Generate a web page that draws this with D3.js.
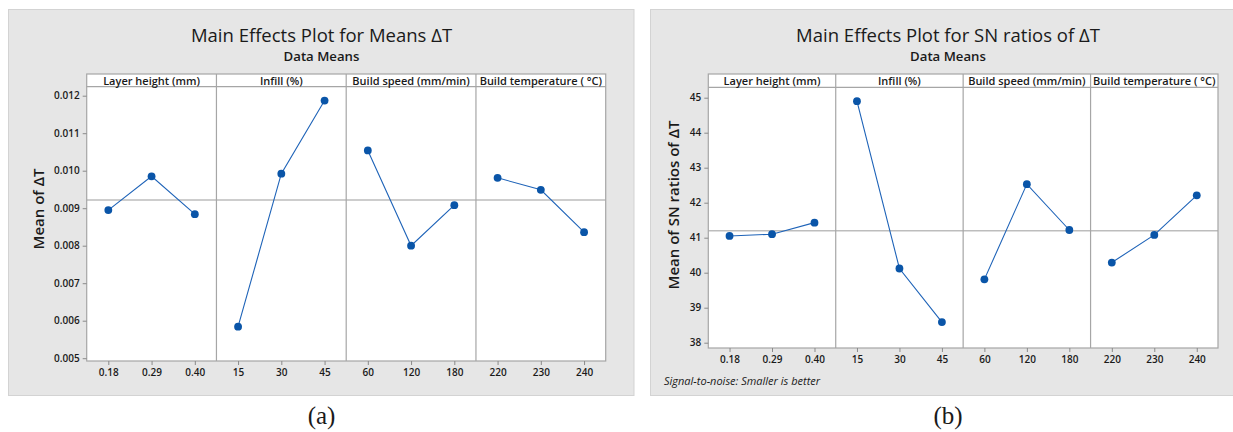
<!DOCTYPE html>
<html>
<head>
<meta charset="utf-8">
<script src="https://cdn.jsdelivr.net/npm/d3@7"></script>
<style>
  html, body { margin: 0; padding: 0; background: #ffffff; }
  svg { display: block; }
  text { font-family: "Open Sans", "Noto Sans", sans-serif; fill: #1a1a1a; }
</style>
</head>
<body>
<svg id="chart" width="1233" height="432"></svg>
<script>
// ---------- DATA ----------
const factors = ["Layer height (mm)", "Infill (%)", "Build speed (mm/min)", "Build temperature ( °C)"];
const layerLevels = ["0.18", "0.29", "0.40"];
const infillLevels = ["15", "30", "45"];
const speedLevels = ["60", "120", "180"];
const tempLevels = ["220", "230", "240"];

// (a) Means of ΔT
const meansLayer = [0.00895, 0.00985, 0.00884];
const meansInfill = [0.00584, 0.00992, 0.01187];
const meansSpeed = [0.01054, 0.00800, 0.00908];
const meansTemp = [0.00981, 0.00949, 0.00836];
const meansOverall = 0.00922;
const meansTicks = [0.005, 0.006, 0.007, 0.008, 0.009, 0.010, 0.011, 0.012];

// (b) SN ratios of ΔT
const snLayer = [41.05, 41.10, 41.43];
const snInfill = [44.90, 40.12, 38.59];
const snSpeed = [39.81, 42.53, 41.22];
const snTemp = [40.29, 41.08, 42.21];
const snOverall = 41.20;
const snTicks = [38, 39, 40, 41, 42, 43, 44, 45];

// ---------- DRAW ----------
const svg = d3.select("#chart");
const levelSets = [layerLevels, infillLevels, speedLevels, tempLevels];

function drawPanel(cfg) {
  const g = svg.append("g");
  // gray background
  g.append("rect")
    .attr("x", cfg.bg[0]).attr("y", cfg.bg[1])
    .attr("width", cfg.bg[2]).attr("height", cfg.bg[3])
    .attr("fill", "#e6e6e6").attr("stroke", "#d3d3d3").attr("stroke-width", 1);

  g.append("text").attr("x", cfg.titleX).attr("y", 41.5)
    .attr("text-anchor", "middle").attr("font-size", 18.5).attr("font-weight", 500)
    .text(cfg.title);
  g.append("text").attr("x", cfg.titleX).attr("y", 61)
    .attr("text-anchor", "middle").attr("font-size", 13.2).attr("font-weight", 600)
    .text("Data Means");

  const y = d3.scaleLinear().domain([cfg.ticks[0], cfg.ticks[cfg.ticks.length - 1]])
    .range([cfg.yTickBottom, cfg.yTickTop]);

  const fw = (cfg.x1 - cfg.x0) / factors.length;

  // plot white background + header
  g.append("rect").attr("x", cfg.x0).attr("y", cfg.headerTop)
    .attr("width", cfg.x1 - cfg.x0).attr("height", cfg.bottom - cfg.headerTop)
    .attr("fill", "#ffffff");

  // mean reference line
  g.append("line")
    .attr("x1", cfg.x0).attr("x2", cfg.x1)
    .attr("y1", y(cfg.overall)).attr("y2", y(cfg.overall))
    .attr("stroke", "#bdbdbd").attr("stroke-width", 1.6);

  // borders
  const bc = "#a6a6a6";
  g.append("rect").attr("x", cfg.x0).attr("y", cfg.headerTop)
    .attr("width", cfg.x1 - cfg.x0).attr("height", cfg.bottom - cfg.headerTop)
    .attr("fill", "none").attr("stroke", bc).attr("stroke-width", 1.2);
  g.append("line").attr("x1", cfg.x0).attr("x2", cfg.x1)
    .attr("y1", cfg.top).attr("y2", cfg.top)
    .attr("stroke", bc).attr("stroke-width", 1.2);

  // y axis
  const yAxis = d3.axisLeft(y).tickValues(cfg.ticks).tickSize(4).tickPadding(3)
    .tickFormat(cfg.tickFormat);
  const ya = g.append("g").attr("transform", `translate(${cfg.x0},0)`).call(yAxis);
  ya.select(".domain").remove();
  ya.selectAll(".tick line").attr("stroke", "#8a8a8a");
  ya.selectAll(".tick text").attr("font-size", 10).attr("font-weight", 600)
    .attr("font-family", "'Open Sans', sans-serif").attr("fill", "#1a1a1a");

  // y title
  g.append("text")
    .attr("transform", `translate(${cfg.yTitleX},${cfg.yTitleY}) rotate(-90)`)
    .attr("text-anchor", "middle").attr("font-size", 15).attr("font-weight", 600)
    .text(cfg.yTitle);

  factors.forEach((f, i) => {
    const fx0 = cfg.x0 + i * fw;
    const x = d3.scalePoint().domain(levelSets[i]).range([fx0, fx0 + fw]).padding(0.5);
    if (i > 0) {
      g.append("line").attr("x1", fx0).attr("x2", fx0)
        .attr("y1", cfg.headerTop).attr("y2", cfg.bottom)
        .attr("stroke", bc).attr("stroke-width", 1.2);
    }
    g.append("text").attr("x", fx0 + fw / 2).attr("y", cfg.headerTop + 10.8)
      .attr("text-anchor", "middle").attr("font-size", 11).attr("font-weight", 600)
      .text(f);

    const xa = g.append("g").attr("transform", `translate(0,${cfg.bottom})`)
      .call(d3.axisBottom(x).tickSize(4).tickPadding(4));
    xa.select(".domain").remove();
    xa.selectAll(".tick line").attr("stroke", "#8a8a8a");
    xa.selectAll(".tick text").attr("font-size", 10).attr("font-weight", 600)
      .attr("font-family", "'Open Sans', sans-serif").attr("fill", "#1a1a1a");

    const vals = cfg.series[i];
    const pts = levelSets[i].map((l, k) => [x(l), y(vals[k])]);
    g.append("path").attr("d", d3.line()(pts))
      .attr("fill", "none").attr("stroke", "#1e63b8").attr("stroke-width", 1.1);
    g.selectAll(null).data(pts).enter().append("circle")
      .attr("cx", d => d[0]).attr("cy", d => d[1]).attr("r", 3.9)
      .attr("fill", "#0a55a8");
  });

  if (cfg.footnote) {
    g.append("text").attr("x", cfg.footX).attr("y", cfg.footY)
      .attr("font-size", 11).attr("font-style", "italic")
      .text(cfg.footnote);
  }

  svg.append("text").attr("x", cfg.titleX).attr("y", 424)
    .attr("text-anchor", "middle").attr("font-size", 25)
    .style("font-family", "'Liberation Serif', 'Times New Roman', serif")
    .text(cfg.caption);
}

drawPanel({
  bg: [8.5, 9.5, 625.5, 386],
  title: "Main Effects Plot for Means ΔT",
  titleX: 321.5,
  x0: 86.7, x1: 605.7, headerTop: 74, top: 86.7, bottom: 361,
  ticks: meansTicks, yTickBottom: 358.2, yTickTop: 95.7,
  tickFormat: d3.format(".3f"),
  overall: meansOverall,
  series: [meansLayer, meansInfill, meansSpeed, meansTemp],
  yTitle: "Mean of ΔT", yTitleX: 44, yTitleY: 209,
  caption: "(a)"
});

drawPanel({
  bg: [650.5, 9.5, 600, 386],
  title: "Main Effects Plot for SN ratios of ΔT",
  titleX: 948,
  x0: 708.3, x1: 1218, headerTop: 74, top: 87.3, bottom: 348,
  ticks: snTicks, yTickBottom: 342.7, yTickTop: 97.7,
  tickFormat: d3.format("d"),
  overall: snOverall,
  series: [snLayer, snInfill, snSpeed, snTemp],
  yTitle: "Mean of SN ratios of ΔT", yTitleX: 679, yTitleY: 205,
  footnote: "Signal-to-noise: Smaller is better", footX: 664, footY: 385,
  caption: "(b)"
});
</script>
</body>
</html>
